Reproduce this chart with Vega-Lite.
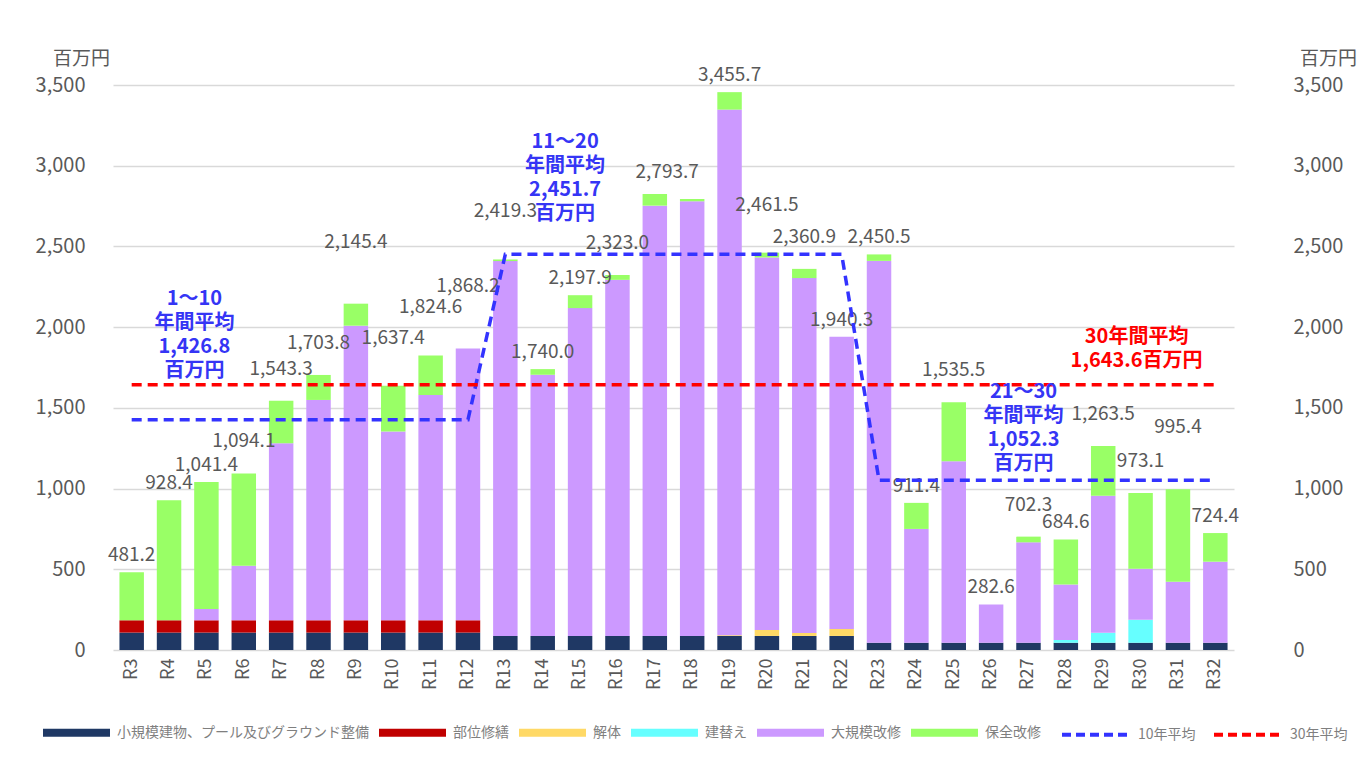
{
  "$schema": "https://vega.github.io/schema/vega-lite/v6.json",
  "width": 1157,
  "height": 565,
  "autosize": {"type": "none"},
  "padding": {"left": 113, "top": 85, "right": 87, "bottom": 110},
  "background": "white",
  "config": {
    "font": "Noto Sans CJK JP",
    "view": {"stroke": null}
  },
  "datasets": {
    "cats": [
      {"cat": "小規模建物、プール及びグラウンド整備", "k": 1},
      {"cat": "部位修繕", "k": 2},
      {"cat": "解体", "k": 3},
      {"cat": "建替え", "k": 4},
      {"cat": "大規模改修", "k": 5},
      {"cat": "保全改修", "k": 6}
    ],
    "parts": [
      {"year": "R3", "cat": "小規模建物、プール及びグラウンド整備", "value": 108},
      {"year": "R3", "cat": "部位修繕", "value": 76},
      {"year": "R3", "cat": "保全改修", "value": 297.2},
      {"year": "R4", "cat": "小規模建物、プール及びグラウンド整備", "value": 108},
      {"year": "R4", "cat": "部位修繕", "value": 76},
      {"year": "R4", "cat": "保全改修", "value": 744.4},
      {"year": "R5", "cat": "小規模建物、プール及びグラウンド整備", "value": 108},
      {"year": "R5", "cat": "部位修繕", "value": 76},
      {"year": "R5", "cat": "大規模改修", "value": 70},
      {"year": "R5", "cat": "保全改修", "value": 787.4},
      {"year": "R6", "cat": "小規模建物、プール及びグラウンド整備", "value": 108},
      {"year": "R6", "cat": "部位修繕", "value": 76},
      {"year": "R6", "cat": "大規模改修", "value": 338},
      {"year": "R6", "cat": "保全改修", "value": 572.1},
      {"year": "R7", "cat": "小規模建物、プール及びグラウンド整備", "value": 108},
      {"year": "R7", "cat": "部位修繕", "value": 76},
      {"year": "R7", "cat": "大規模改修", "value": 1097},
      {"year": "R7", "cat": "保全改修", "value": 262.3},
      {"year": "R8", "cat": "小規模建物、プール及びグラウンド整備", "value": 108},
      {"year": "R8", "cat": "部位修繕", "value": 76},
      {"year": "R8", "cat": "大規模改修", "value": 1365},
      {"year": "R8", "cat": "保全改修", "value": 154.8},
      {"year": "R9", "cat": "小規模建物、プール及びグラウンド整備", "value": 108},
      {"year": "R9", "cat": "部位修繕", "value": 76},
      {"year": "R9", "cat": "大規模改修", "value": 1825},
      {"year": "R9", "cat": "保全改修", "value": 136.4},
      {"year": "R10", "cat": "小規模建物、プール及びグラウンド整備", "value": 108},
      {"year": "R10", "cat": "部位修繕", "value": 76},
      {"year": "R10", "cat": "大規模改修", "value": 1169},
      {"year": "R10", "cat": "保全改修", "value": 284.4},
      {"year": "R11", "cat": "小規模建物、プール及びグラウンド整備", "value": 108},
      {"year": "R11", "cat": "部位修繕", "value": 76},
      {"year": "R11", "cat": "大規模改修", "value": 1396},
      {"year": "R11", "cat": "保全改修", "value": 244.6},
      {"year": "R12", "cat": "小規模建物、プール及びグラウンド整備", "value": 108},
      {"year": "R12", "cat": "部位修繕", "value": 76},
      {"year": "R12", "cat": "大規模改修", "value": 1684.2},
      {"year": "R13", "cat": "小規模建物、プール及びグラウンド整備", "value": 87},
      {"year": "R13", "cat": "大規模改修", "value": 2322.3},
      {"year": "R13", "cat": "保全改修", "value": 10},
      {"year": "R14", "cat": "小規模建物、プール及びグラウンド整備", "value": 87},
      {"year": "R14", "cat": "大規模改修", "value": 1618},
      {"year": "R14", "cat": "保全改修", "value": 35},
      {"year": "R15", "cat": "小規模建物、プール及びグラウンド整備", "value": 87},
      {"year": "R15", "cat": "大規模改修", "value": 2030.9},
      {"year": "R15", "cat": "保全改修", "value": 80},
      {"year": "R16", "cat": "小規模建物、プール及びグラウンド整備", "value": 87},
      {"year": "R16", "cat": "大規模改修", "value": 2206},
      {"year": "R16", "cat": "保全改修", "value": 30},
      {"year": "R17", "cat": "小規模建物、プール及びグラウンド整備", "value": 87},
      {"year": "R17", "cat": "大規模改修", "value": 2665.7},
      {"year": "R17", "cat": "保全改修", "value": 72},
      {"year": "R18", "cat": "小規模建物、プール及びグラウンド整備", "value": 87},
      {"year": "R18", "cat": "大規模改修", "value": 2692.7},
      {"year": "R18", "cat": "保全改修", "value": 14},
      {"year": "R19", "cat": "小規模建物、プール及びグラウンド整備", "value": 87},
      {"year": "R19", "cat": "解体", "value": 5},
      {"year": "R19", "cat": "大規模改修", "value": 3255.7},
      {"year": "R19", "cat": "保全改修", "value": 108},
      {"year": "R20", "cat": "小規模建物、プール及びグラウンド整備", "value": 87},
      {"year": "R20", "cat": "解体", "value": 37},
      {"year": "R20", "cat": "大規模改修", "value": 2307.5},
      {"year": "R20", "cat": "保全改修", "value": 30},
      {"year": "R21", "cat": "小規模建物、プール及びグラウンド整備", "value": 87},
      {"year": "R21", "cat": "解体", "value": 19},
      {"year": "R21", "cat": "大規模改修", "value": 2197.9},
      {"year": "R21", "cat": "保全改修", "value": 57},
      {"year": "R22", "cat": "小規模建物、プール及びグラウンド整備", "value": 87},
      {"year": "R22", "cat": "解体", "value": 43},
      {"year": "R22", "cat": "大規模改修", "value": 1810.3},
      {"year": "R23", "cat": "小規模建物、プール及びグラウンド整備", "value": 45},
      {"year": "R23", "cat": "大規模改修", "value": 2365.5},
      {"year": "R23", "cat": "保全改修", "value": 40},
      {"year": "R24", "cat": "小規模建物、プール及びグラウンド整備", "value": 45},
      {"year": "R24", "cat": "大規模改修", "value": 705},
      {"year": "R24", "cat": "保全改修", "value": 161.4},
      {"year": "R25", "cat": "小規模建物、プール及びグラウンド整備", "value": 45},
      {"year": "R25", "cat": "大規模改修", "value": 1124},
      {"year": "R25", "cat": "保全改修", "value": 366.5},
      {"year": "R26", "cat": "小規模建物、プール及びグラウンド整備", "value": 45},
      {"year": "R26", "cat": "大規模改修", "value": 237.6},
      {"year": "R27", "cat": "小規模建物、プール及びグラウンド整備", "value": 45},
      {"year": "R27", "cat": "大規模改修", "value": 622},
      {"year": "R27", "cat": "保全改修", "value": 35.3},
      {"year": "R28", "cat": "小規模建物、プール及びグラウンド整備", "value": 45},
      {"year": "R28", "cat": "建替え", "value": 17},
      {"year": "R28", "cat": "大規模改修", "value": 343},
      {"year": "R28", "cat": "保全改修", "value": 279.6},
      {"year": "R29", "cat": "小規模建物、プール及びグラウンド整備", "value": 45},
      {"year": "R29", "cat": "建替え", "value": 62},
      {"year": "R29", "cat": "大規模改修", "value": 849},
      {"year": "R29", "cat": "保全改修", "value": 307.5},
      {"year": "R30", "cat": "小規模建物、プール及びグラウンド整備", "value": 45},
      {"year": "R30", "cat": "建替え", "value": 142},
      {"year": "R30", "cat": "大規模改修", "value": 317},
      {"year": "R30", "cat": "保全改修", "value": 469.1},
      {"year": "R31", "cat": "小規模建物、プール及びグラウンド整備", "value": 45},
      {"year": "R31", "cat": "大規模改修", "value": 378},
      {"year": "R31", "cat": "保全改修", "value": 572.4},
      {"year": "R32", "cat": "小規模建物、プール及びグラウンド整備", "value": 45},
      {"year": "R32", "cat": "大規模改修", "value": 502},
      {"year": "R32", "cat": "保全改修", "value": 177.4}
    ],
    "labels": [
      {"year": "R3", "total": 481.2},
      {"year": "R4", "total": 928.4},
      {"year": "R5", "total": 1041.4},
      {"year": "R6", "total": 1094.1},
      {"year": "R7", "total": 1543.3},
      {"year": "R8", "total": 1703.8},
      {"year": "R9", "total": 2145.4},
      {"year": "R10", "total": 1637.4},
      {"year": "R11", "total": 1824.6},
      {"year": "R12", "total": 1868.2},
      {"year": "R13", "total": 2419.3},
      {"year": "R14", "total": 1740.0},
      {"year": "R15", "total": 2197.9},
      {"year": "R16", "total": 2323.0},
      {"year": "R18", "total": 2793.7},
      {"year": "R19", "total": 3455.7},
      {"year": "R20", "total": 2461.5},
      {"year": "R21", "total": 2360.9},
      {"year": "R22", "total": 1940.3},
      {"year": "R23", "total": 2450.5},
      {"year": "R24", "total": 911.4},
      {"year": "R25", "total": 1535.5},
      {"year": "R26", "total": 282.6},
      {"year": "R27", "total": 702.3},
      {"year": "R28", "total": 684.6},
      {"year": "R29", "total": 1263.5},
      {"year": "R30", "total": 973.1},
      {"year": "R31", "total": 995.4},
      {"year": "R32", "total": 724.4}
    ],
    "avgs": [
      {"year": "R3", "10年平均": 1426.8, "30年平均": 1643.6},
      {"year": "R4", "10年平均": 1426.8, "30年平均": 1643.6},
      {"year": "R5", "10年平均": 1426.8, "30年平均": 1643.6},
      {"year": "R6", "10年平均": 1426.8, "30年平均": 1643.6},
      {"year": "R7", "10年平均": 1426.8, "30年平均": 1643.6},
      {"year": "R8", "10年平均": 1426.8, "30年平均": 1643.6},
      {"year": "R9", "10年平均": 1426.8, "30年平均": 1643.6},
      {"year": "R10", "10年平均": 1426.8, "30年平均": 1643.6},
      {"year": "R11", "10年平均": 1426.8, "30年平均": 1643.6},
      {"year": "R12", "10年平均": 1426.8, "30年平均": 1643.6},
      {"year": "R13", "10年平均": 2451.7, "30年平均": 1643.6},
      {"year": "R14", "10年平均": 2451.7, "30年平均": 1643.6},
      {"year": "R15", "10年平均": 2451.7, "30年平均": 1643.6},
      {"year": "R16", "10年平均": 2451.7, "30年平均": 1643.6},
      {"year": "R17", "10年平均": 2451.7, "30年平均": 1643.6},
      {"year": "R18", "10年平均": 2451.7, "30年平均": 1643.6},
      {"year": "R19", "10年平均": 2451.7, "30年平均": 1643.6},
      {"year": "R20", "10年平均": 2451.7, "30年平均": 1643.6},
      {"year": "R21", "10年平均": 2451.7, "30年平均": 1643.6},
      {"year": "R22", "10年平均": 2451.7, "30年平均": 1643.6},
      {"year": "R23", "10年平均": 1052.3, "30年平均": 1643.6},
      {"year": "R24", "10年平均": 1052.3, "30年平均": 1643.6},
      {"year": "R25", "10年平均": 1052.3, "30年平均": 1643.6},
      {"year": "R26", "10年平均": 1052.3, "30年平均": 1643.6},
      {"year": "R27", "10年平均": 1052.3, "30年平均": 1643.6},
      {"year": "R28", "10年平均": 1052.3, "30年平均": 1643.6},
      {"year": "R29", "10年平均": 1052.3, "30年平均": 1643.6},
      {"year": "R30", "10年平均": 1052.3, "30年平均": 1643.6},
      {"year": "R31", "10年平均": 1052.3, "30年平均": 1643.6},
      {"year": "R32", "10年平均": 1052.3, "30年平均": 1643.6}
    ]
  },
  "encoding": {
    "x": {
      "field": "year",
      "type": "nominal",
      "scale": {
        "domain": ["R3","R4","R5","R6","R7","R8","R9","R10","R11","R12","R13","R14","R15","R16","R17","R18","R19","R20","R21","R22","R23","R24","R25","R26","R27","R28","R29","R30","R31","R32"],
        "range": [0, 1121],
        "paddingInner": 0.345,
        "paddingOuter": 0.1725
      },
      "axis": {
        "title": null,
        "labelAngle": -90,
        "labelPadding": 8,
        "labelFontSize": 18,
        "labelColor": "#595959",
        "ticks": false,
        "domain": false,
        "grid": false
      }
    }
  },
  "layer": [
    {
      "data": {"name": "parts"},
      "transform": [
        {"lookup": "cat", "from": {"data": {"name": "cats"}, "key": "cat", "fields": ["k"]}}
      ],
      "mark": {"type": "bar"},
      "encoding": {
        "y": {
          "field": "value",
          "type": "quantitative",
          "stack": "zero",
          "scale": {"domain": [0, 3500], "nice": false},
          "axis": {
            "title": "百万円",
            "titleAngle": 0,
            "titleX": -32,
            "titleY": -27,
            "titleAlign": "center",
            "titleBaseline": "middle",
            "titleFontWeight": "normal",
            "titleFontSize": 19,
            "titleColor": "#595959",
            "values": [0, 500, 1000, 1500, 2000, 2500, 3000, 3500],
            "format": ",.0f",
            "labelFontSize": 20,
            "labelColor": "#595959",
            "labelPadding": 28,
            "ticks": false,
            "domain": false,
            "grid": true,
            "gridColor": "#d9d9d9",
            "gridWidth": 1.3
          }
        },
        "order": {"field": "k", "type": "quantitative", "sort": "ascending"},
        "color": {
          "field": "cat",
          "type": "nominal",
          "sort": ["小規模建物、プール及びグラウンド整備", "部位修繕", "解体", "建替え", "大規模改修", "保全改修"],
          "scale": {
            "domain": ["小規模建物、プール及びグラウンド整備", "部位修繕", "解体", "建替え", "大規模改修", "保全改修"],
            "range": ["#1f3864", "#c00000", "#ffd966", "#66ffff", "#cc99ff", "#99ff66"]
          },
          "legend": {
            "orient": "none",
            "legendX": -70,
            "legendY": 614,
            "direction": "horizontal",
            "columns": 6,
            "title": null,
            "symbolType": "M-1,-0.12H1V0.12H-1Z",
            "symbolSize": 4489,
            "symbolStrokeWidth": 0,
            "labelFontSize": 14,
            "labelColor": "#7f7f7f",
            "labelOffset": 7,
            "columnPadding": 10,
            "labelLimit": 400
          }
        }
      }
    },
    {
      "data": {"name": "labels"},
      "transform": [{"filter": {"field": "year", "oneOf": ["R3", "R4", "R5", "R14", "R15", "R19", "R22", "R23", "R24", "R26", "R28", "R32"]}}],
      "mark": {"type": "text", "baseline": "middle", "dy": -17, "fontSize": 19, "color": "#595959"},
      "encoding": {
        "y": {"field": "total", "type": "quantitative", "scale": {"domain": [0, 3500], "nice": false}, "axis": null},
        "text": {"field": "total", "type": "quantitative", "format": ",.1f"}
      }
    },
    {
      "data": {"name": "labels"},
      "transform": [{"filter": {"field": "year", "oneOf": ["R6", "R7", "R8", "R16", "R21", "R25", "R27", "R29", "R30"]}}],
      "mark": {"type": "text", "baseline": "middle", "dy": -32, "fontSize": 19, "color": "#595959"},
      "encoding": {
        "y": {"field": "total", "type": "quantitative", "scale": {"domain": [0, 3500], "nice": false}, "axis": null},
        "text": {"field": "total", "type": "quantitative", "format": ",.1f"}
      }
    },
    {
      "data": {"name": "labels"},
      "transform": [{"filter": {"field": "year", "oneOf": ["R18"]}}],
      "mark": {"type": "text", "baseline": "middle", "dx": -25, "dy": -27, "fontSize": 19, "color": "#595959"},
      "encoding": {
        "y": {"field": "total", "type": "quantitative", "scale": {"domain": [0, 3500], "nice": false}, "axis": null},
        "text": {"field": "total", "type": "quantitative", "format": ",.1f"}
      }
    },
    {
      "data": {"name": "labels"},
      "transform": [{"filter": {"field": "year", "oneOf": ["R10", "R11", "R13", "R20"]}}],
      "mark": {"type": "text", "baseline": "middle", "dy": -48, "fontSize": 19, "color": "#595959"},
      "encoding": {
        "y": {"field": "total", "type": "quantitative", "scale": {"domain": [0, 3500], "nice": false}, "axis": null},
        "text": {"field": "total", "type": "quantitative", "format": ",.1f"}
      }
    },
    {
      "data": {"name": "labels"},
      "transform": [{"filter": {"field": "year", "oneOf": ["R9", "R12", "R31"]}}],
      "mark": {"type": "text", "baseline": "middle", "dy": -62, "fontSize": 19, "color": "#595959"},
      "encoding": {
        "y": {"field": "total", "type": "quantitative", "scale": {"domain": [0, 3500], "nice": false}, "axis": null},
        "text": {"field": "total", "type": "quantitative", "format": ",.1f"}
      }
    },
    {
      "data": {"name": "avgs"},
      "transform": [{"fold": ["10年平均", "30年平均"], "as": ["series", "avg"]}],
      "mark": {"type": "line", "strokeDash": [10, 6], "strokeWidth": 3.5},
      "encoding": {
        "y": {
          "field": "avg",
          "type": "quantitative",
          "scale": {"domain": [0, 3500], "nice": false},
          "axis": {
            "orient": "right",
            "title": "百万円",
            "titleAngle": 0,
            "titleX": 58,
            "titleY": -27,
            "titleAlign": "center",
            "titleBaseline": "middle",
            "titleFontWeight": "normal",
            "titleFontSize": 19,
            "titleColor": "#595959",
            "values": [0, 500, 1000, 1500, 2000, 2500, 3000, 3500],
            "format": ",.0f",
            "labelFontSize": 20,
            "labelColor": "#595959",
            "labelPadding": 23,
            "ticks": false,
            "domain": false,
            "grid": false
          }
        },
        "stroke": {
          "field": "series",
          "type": "nominal",
          "scale": {"domain": ["10年平均", "30年平均"], "range": ["#3333ff", "#ff0000"]},
          "legend": {
            "orient": "none",
            "legendX": 947,
            "legendY": 614,
            "direction": "horizontal",
            "columns": 2,
            "title": null,
            "symbolType": "stroke",
            "symbolSize": 4489,
            "symbolStrokeWidth": 4,
            "symbolDash": [9, 5],
            "labelFontSize": 14,
            "labelColor": "#7f7f7f",
            "labelOffset": 7,
            "columnPadding": 10
          }
        }
      }
    },
    {
      "data": {"values": [{"year": "R5", "avg": 1426.8, "note": "1～10\n年間平均\n1,426.8\n百万円"}]},
      "mark": {"type": "text", "lineBreak": "\n", "fontSize": 20, "fontWeight": "bold", "lineHeight": 24, "color": "#3535f5", "align": "center", "baseline": "middle", "dx": -12, "dy": -121},
      "encoding": {
        "y": {"field": "avg", "type": "quantitative", "scale": {"domain": [0, 3500], "nice": false}, "axis": null},
        "text": {"field": "note"}
      }
    },
    {
      "data": {"values": [{"year": "R15", "avg": 2451.7, "note": "11～20\n年間平均\n2,451.7\n百万円"}]},
      "mark": {"type": "text", "lineBreak": "\n", "fontSize": 20, "fontWeight": "bold", "lineHeight": 24, "color": "#3535f5", "align": "center", "baseline": "middle", "dx": -15, "dy": -112},
      "encoding": {
        "y": {"field": "avg", "type": "quantitative", "scale": {"domain": [0, 3500], "nice": false}, "axis": null},
        "text": {"field": "note"}
      }
    },
    {
      "data": {"values": [{"year": "R27", "avg": 1052.3, "note": "21～30\n年間平均\n1,052.3\n百万円"}]},
      "mark": {"type": "text", "lineBreak": "\n", "fontSize": 20, "fontWeight": "bold", "lineHeight": 24, "color": "#3535f5", "align": "center", "baseline": "middle", "dx": -5, "dy": -88},
      "encoding": {
        "y": {"field": "avg", "type": "quantitative", "scale": {"domain": [0, 3500], "nice": false}, "axis": null},
        "text": {"field": "note"}
      }
    },
    {
      "data": {"values": [{"year": "R30", "avg": 1643.6, "note": "30年間平均\n1,643.6百万円"}]},
      "mark": {"type": "text", "lineBreak": "\n", "fontSize": 20, "fontWeight": "bold", "lineHeight": 24, "color": "#ff0000", "align": "center", "baseline": "middle", "dx": -4, "dy": -48},
      "encoding": {
        "y": {"field": "avg", "type": "quantitative", "scale": {"domain": [0, 3500], "nice": false}, "axis": null},
        "text": {"field": "note"}
      }
    }
  ],
  "resolve": {"axis": {"y": "independent"}, "scale": {"y": "shared"}}
}
